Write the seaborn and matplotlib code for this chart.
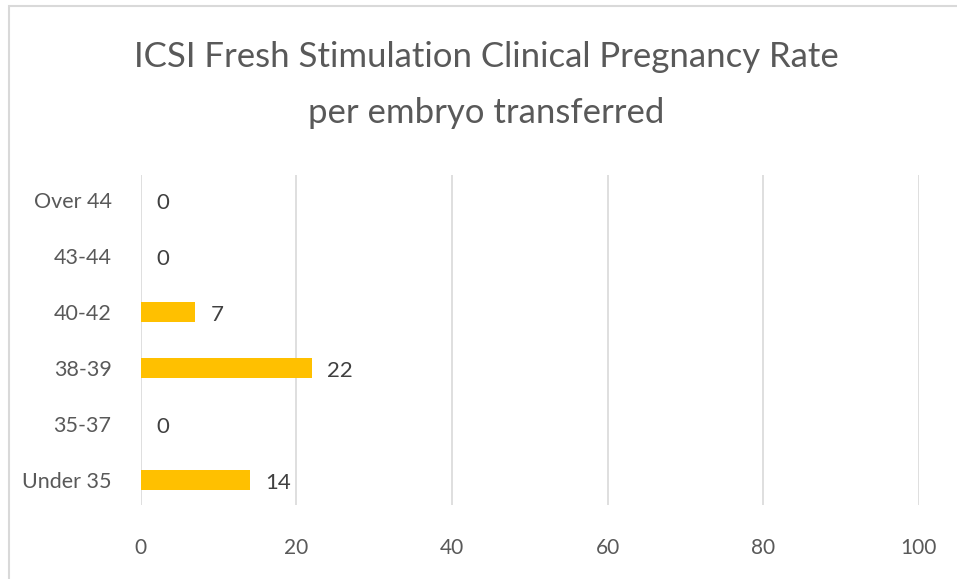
import pandas as pd
import seaborn as sns
import matplotlib.pyplot as plt
from matplotlib.patches import Rectangle

age_groups = ['Over 44', '43-44', '40-42', '38-39', '35-37', 'Under 35']
rates = [0, 0, 7, 22, 0, 14]
x_ticks = [0, 20, 40, 60, 80, 100]

df = pd.DataFrame({'age': age_groups, 'rate': rates})

sns.set_style('white')
plt.rcParams['font.family'] = ['Lato', 'DejaVu Sans']

fig = plt.figure(figsize=(9.57, 5.79), dpi=100)
ax = fig.add_axes([0.147, 0.128, 0.813, 0.570])

sns.barplot(data=df, x='rate', y='age', order=age_groups, color='#FFC000',
            width=0.36, saturation=1, linewidth=0, ax=ax)

for i, v in enumerate(rates):
    ax.text(v + 2, i + 0.05, str(v), va='center', ha='left', fontsize=16,
            color='#404040')

ax.set_xlim(0, 100)
ax.set_ylim(5.44, -0.45)
ax.set_xticks(x_ticks)
ax.set_xticklabels([str(t) for t in x_ticks], fontsize=15, color='#595959')
ax.tick_params(axis='x', pad=24, length=0)
ax.tick_params(axis='y', pad=21, length=0)
for lab in ax.get_yticklabels():
    lab.set_fontsize(15.5)
    lab.set_color('#595959')
ax.set_xlabel('')
ax.set_ylabel('')
ax.xaxis.grid(True, color='#D9D9D9', linewidth=1.2)
ax.set_axisbelow(True)
for s in ax.spines.values():
    s.set_visible(False)

fig.text(0.508, 0.902, 'ICSI Fresh Stimulation Clinical Pregnancy Rate',
         ha='center', va='center', fontsize=25, color='#595959')
fig.text(0.508, 0.804, 'per embryo transferred',
         ha='center', va='center', fontsize=25, color='#595959')

fig.patches.append(Rectangle((0.009, -0.01), 1.0, 1.0, transform=fig.transFigure,
                             fill=False, edgecolor='#D9D9D9', linewidth=1.5))

fig.savefig('out.png', dpi=100)
